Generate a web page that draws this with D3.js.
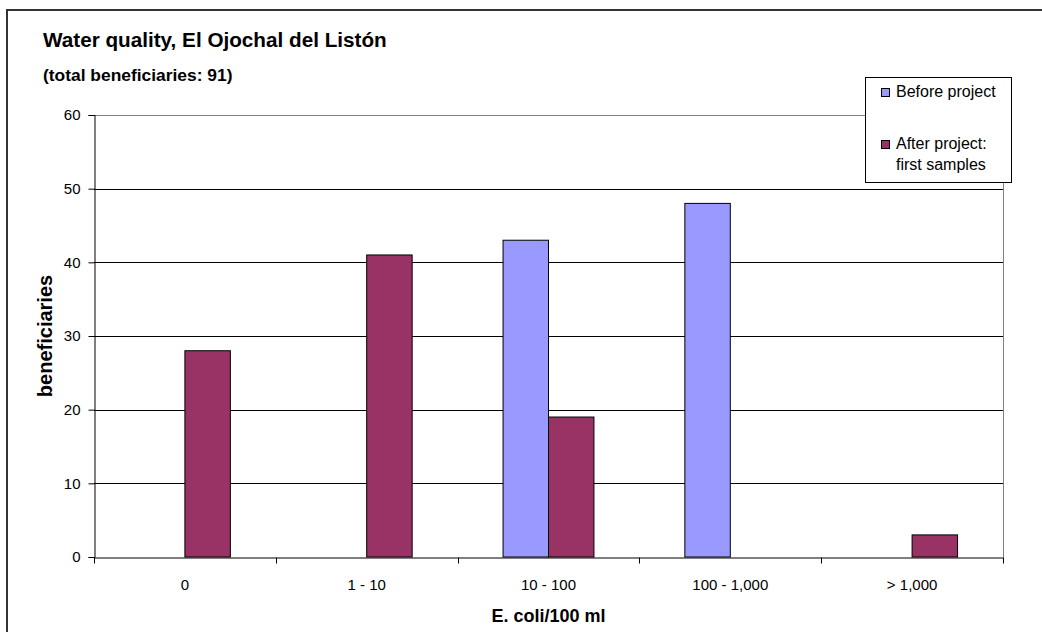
<!DOCTYPE html>
<html>
<head>
<meta charset="utf-8">
<script src="https://cdn.jsdelivr.net/npm/d3@7"></script>
<style>
  html, body { margin: 0; padding: 0; background: #fff; }
  svg { display: block; font-family: "Liberation Sans", Arial, sans-serif; }
</style>
</head>
<body>
<svg id="chart" width="1042" height="632"></svg>
<script>
const categories = ["0", "1 - 10", "10 - 100", "100 - 1,000", "> 1,000"];
const seriesNames = ["Before project", "After project: first samples"];
const beforeValues = [0, 0, 43, 48, 0];
const afterValues = [28, 41, 19, 0, 3];
const yTicks = [0, 10, 20, 30, 40, 50, 60];
const colors = ["#9999FF", "#993366"];

const svg = d3.select("#chart");
const W = 1042, H = 632;
const plot = { left: 94, right: 1003, top: 115, bottom: 557 };

// outer chart border
svg.append("rect")
  .attr("x", 7).attr("y", 10)
  .attr("width", W + 10).attr("height", H + 10)
  .attr("fill", "#fff").attr("stroke", "#333").attr("stroke-width", 2);

const x = d3.scaleBand().domain(categories).range([plot.left, plot.right]).paddingInner(0).paddingOuter(0);
const y = d3.scaleLinear().domain([0, 60]).range([plot.bottom, plot.top]);
const inner = d3.scaleBand().domain([0, 1]).range([0, x.bandwidth()]).paddingInner(0).paddingOuter(1);

// gridlines
svg.append("g").selectAll("line").data(yTicks.filter(d => d > 0)).join("line")
  .attr("x1", plot.left).attr("x2", plot.right)
  .attr("y1", d => Math.round(y(d)) + 0.5).attr("y2", d => Math.round(y(d)) + 0.5)
  .attr("stroke", d => d === 60 ? "#808080" : "#000").attr("stroke-width", 1);

// right plot border
svg.append("line")
  .attr("x1", plot.right + 0.5).attr("x2", plot.right + 0.5)
  .attr("y1", plot.top).attr("y2", plot.bottom)
  .attr("stroke", "#808080");

// bars
const series = [beforeValues, afterValues];
series.forEach((vals, si) => {
  svg.append("g").selectAll("rect").data(vals.map((v, i) => ({ v, c: categories[i] })).filter(d => d.v > 0)).join("rect")
    .attr("x", d => x(d.c) + inner(si))
    .attr("width", inner.bandwidth())
    .attr("y", d => y(d.v))
    .attr("height", d => y(0) - y(d.v))
    .attr("fill", colors[si])
    .attr("stroke", "#000").attr("stroke-width", 1);
});

// y axis
const yAxis = d3.axisLeft(y).tickValues(yTicks).tickSize(6).tickPadding(8);
const gy = svg.append("g").attr("transform", `translate(${plot.left + 0.5},0)`).call(yAxis);
gy.select(".domain").attr("stroke", "#000");
gy.selectAll(".tick line").attr("stroke", "#000");
gy.selectAll(".tick text").attr("font-size", 15).attr("font-family", "Liberation Sans, Arial, sans-serif").attr("fill", "#000");

// x axis
const xAxis = d3.axisBottom(x).tickSize(0).tickPadding(22);
const gx = svg.append("g").attr("transform", `translate(0,${plot.bottom + 0.5})`).call(xAxis);
gx.select(".domain").attr("stroke", "#000");
gx.selectAll(".tick text").attr("font-size", 15).attr("font-family", "Liberation Sans, Arial, sans-serif").attr("fill", "#000");
// boundary tick marks
const boundaries = categories.map(c => x(c)).concat([plot.right]);
gx.append("g").selectAll("line").data(boundaries).join("line")
  .attr("x1", d => Math.round(d) + 0.5).attr("x2", d => Math.round(d) + 0.5)
  .attr("y1", 0).attr("y2", 6).attr("stroke", "#000");

// titles
svg.append("text").attr("x", 43).attr("y", 47)
  .attr("font-size", 20.7).attr("font-weight", "bold").attr("fill", "#000")
  .text("Water quality, El Ojochal del Listón");
svg.append("text").attr("x", 43).attr("y", 81)
  .attr("font-size", 17.4).attr("font-weight", "bold").attr("fill", "#000")
  .text("(total beneficiaries: 91)");
svg.append("text").attr("x", (plot.left + plot.right) / 2).attr("y", 622)
  .attr("text-anchor", "middle").attr("font-size", 18).attr("font-weight", "bold").attr("fill", "#000")
  .text("E. coli/100 ml");
svg.append("text")
  .attr("transform", `translate(52,${(plot.top + plot.bottom) / 2}) rotate(-90)`)
  .attr("text-anchor", "middle").attr("font-size", 20).attr("font-weight", "bold").attr("fill", "#000")
  .text("beneficiaries");

// legend
const lg = svg.append("g");
lg.append("rect").attr("x", 865.5).attr("y", 77.5).attr("width", 146).attr("height", 105)
  .attr("fill", "#fff").attr("stroke", "#000");
const legendRows = [
  { lines: ["Before project"], y: 97 },
  { lines: ["After project:", "first samples"], y: 149 }
];
legendRows.forEach((r, i) => {
  lg.append("rect").attr("x", 881.5).attr("y", r.y - 8.5).attr("width", 8).attr("height", 8)
    .attr("fill", colors[i]).attr("stroke", "#000");
  r.lines.forEach((t, j) => {
    lg.append("text").attr("x", 896).attr("y", r.y + j * 21)
      .attr("font-size", 16).attr("fill", "#000").text(t);
  });
});
</script>
</body>
</html>
